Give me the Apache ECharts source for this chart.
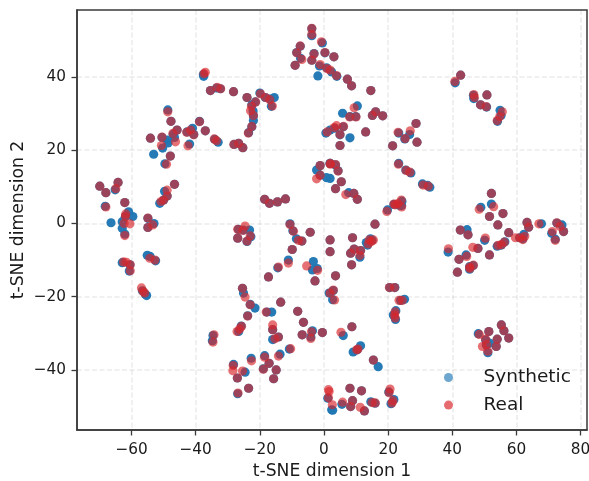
<!DOCTYPE html>
<html><head><meta charset="utf-8">
<style>html,body{margin:0;padding:0;background:#fff}#c{width:589px;height:481px}</style>
<script src="https://cdn.jsdelivr.net/npm/echarts@6/dist/echarts.min.js"></script></head>
<body><div id="c"></div>
<script>
const xTicks=[-60,-40,-20,0,20,40,60,80];
const yTicks=[-40,-20,0,20,40];
const seriesNames=['Synthetic','Real'];
const synthetic=[
[-3.8,53.2],[-3.8,51.3],[-7.4,48.4],[-8.5,46.7],[-7.3,45.1],[-9,43.2],[-3.8,44.6],[-3.1,46.4],[-0.5,49.3],[0.3,46.6],[-1.4,43],[0.8,42.5],[-1.9,40.3],[2.4,41.4],[3.1,45.5],[4,40.2],[7.3,39.4],[8.6,37.6],[14.6,36.3],
[10.4,32.1],[5.8,30.1],[8.1,29.2],[9.9,29.2],[15.1,29.5],[16.1,30.5],[18.3,29.4],[6,26.4],[3.4,26],[5,24.2],[8.1,23.4],[13,25],[5,21.3],[1.9,25.5],
[23.3,24.7],[26.7,24.3],[25.2,23.1],[28.7,27.3],[29,22.2],[21.4,21.2],[23.3,16.4],[25.5,14.6],[27.1,13.8],[30.7,10.8],[33,9.9],[32.3,10.4],
[3.6,16],[1.9,16.4],[4.4,14.4],[1.9,12.3],[5.4,11.4],[3.6,9.5],[7.7,8.4],[9.3,8.2],[10.4,6.6],
[52.2,8.2],[52.2,5.3],[48.9,4.4],[55.8,2.7],[51.6,1.9],[42.6,40.5],[40.9,38.4],[46.7,34.1],[46.6,35],[48.8,32.4],[50.7,31.8],[50.8,35.1],[54.9,30.9],[55.2,29.5],[54.1,27.9],
[19.8,3.7],[21.8,5.2],[24.3,6.1],[24.2,4.9],[23.4,5],
[-37.5,40.2],[-37.6,40.7],[-35.4,36.3],[-33.5,37],[-32.3,36.8],[-28.2,36],[-24,34.4],[-20,35.6],[-18.3,34.4],[-16.8,34],[-15.5,34.4],[-16.4,32],[-21.4,33.2],[-22.5,32.4],[-22.1,30.7],[-22,29.4],[-22,28.1],[-22.5,26.4],[-23.5,24.8],
[-48.7,31],[-47.7,27.9],[-45.8,25.5],[-47,24.4],[-46.6,23.5],[-48.9,22.8],[-48.6,22],[-50.5,23.5],[-54.1,23.3],[-50.3,20.6],[-53.1,18.9],[-47.9,18.4],[-49.6,16.3],
[-42.7,25],[-41,26],[-40.6,24.3],[-38.8,27.9],[-37,25.3],[-41.9,21.7],[-34.1,23],[-33,22.2],[-28,21.6],[-26.6,21.9],[-25.3,20.7],
[-69.9,10.2],[-68,8.4],[-65.1,9.2],[-64.2,11.2],[-68.2,4.7],[-62.1,5.7],[-61.9,2],[-60.9,3.2],[-59.6,1.9],[-66.4,0.2],[-62.9,0.5],[-62.9,-1.3],[-62.1,-2.9],[-54.9,1.4],[-53,0],[-54.9,-1.1],
[0.6,24.7],[-1.2,15.8],[-2.3,14.6],[1.9,16.4],[0.8,12.5],[-1.2,13.2],[-18.5,6.6],[-17,5.5],[-14.5,5.9],[-12,6.7],
[-49.7,8.8],[-46.6,10.7],[-48.9,7.5],[-50,6.4],[-51.2,5.5],[-62.9,-10.7],[-60.5,-11.3],[-60.7,-13],[-55.1,-8.7],[-54.2,-9],[-52.5,-10.2],
[-56.6,-18.4],[-55.7,-19.3],[-55.3,-19.7],[-34.6,-30.6],[-34.8,-32],[-26.6,-29.5],[-25.8,-28],
[-25.4,-17.7],[-25.1,-19],[-23,-22.1],[-21.5,-23.1],[-23.8,-25.2],[-17.8,-24.2],[-16.3,-24.2],[-13.5,-21.5],[-16,-29],[-16,-31.7],[-14.2,-31],
[-8.2,-24],[-6.4,-27],[-3.6,-29.3],[-6.8,-30.4],[-0.5,-29.8],[-4.1,-31],[-10.8,-34.3],[-13.7,-35.7],[-18.5,-36.1],[-17.1,-38.2],[-18.9,-39.7],[-14.9,-40],[-15.7,-42.4],[-22.7,-36.8],[-24.6,-40.6],[-28.2,-38.5],[-27,-42.2],[-23.5,-45],[-26.9,-46.5],
[-26.7,-1.6],[-25.1,-1.8],[-23.2,-1.8],[-22.8,-3.6],[-24,-4.9],[-26.9,-4],[-10.6,-0.1],[-9.7,-2],[-8.6,-4.2],[-6.9,-4.8],[-4.3,-2.4],[-9.9,-7.1],[-11.1,-10],[-14.4,-12.1],[-17.3,-14.6],[-3.3,-10.4],[-3.6,-12.7],[-2.1,-12.3],[-2.8,-15.7],
[1.6,-19],[2.7,-20.8],[1.2,-47.7],[2.4,-50.9],[1.9,-4.5],[1.9,-7.7],[15.9,-0.2],[8.9,-3.9],[14.5,-4.2],[15,-4.6],[13.6,-5.9],[13.2,-5.2],
[9.4,-7],[11.4,-7.4],[8.3,-8.1],[11.2,-9.2],[8.6,-11.3],[3.6,-14.3],[2.9,-18.3],[20.5,-17.5],[22.1,-17.5],[25.1,-20.7],[23.9,-21],[22.4,-23.8],[21.6,-25],[22.3,-26.2],
[6,-30.6],[8.7,-28.2],[11.4,-33.4],[9.1,-35.1],[10.4,-34.5],[15.4,-37.3],[16.9,-39.1],[8.1,-45],[11.7,-45.7],[20.2,-46],[21.8,-48.1],[20.9,-49.2],
[14.6,-48.7],[15.9,-49.1],[12.6,-51.2],[8.9,-48.4],[8.3,-50],[5.6,-49.4],[2.7,-51],
[42.5,-1.8],[44.6,-1.7],[44.9,-3.1],[38.7,-7.8],[50.1,-4.6],[48,-6.8],[44.3,-8.6],[42.1,-9.8],[51.6,-8.6],[45.4,-11.8],[46.5,-11.5],[45.4,-12.5],[41.6,-13.3],[54,-6.2],[55.3,-5.9],[56.4,-5],[57.6,-2.5],[54.2,-0.4],
[61,-3.9],[62.3,-3],[62,-4.2],[63.3,0.3],[63.8,-1],[67.8,-0.1],[71,-2.7],[72.1,-4.3],[72.6,0.1],[74.2,-0.4],[74.7,-2.2],
[55.3,-27.7],[56.1,-29.3],[57.6,-31.3],[51.4,-29.5],[48.1,-30.1],[54,-31.6],[50.4,-31.8],[51.6,-32.7],[50.6,-33.2],[53.7,-33.6],[51.1,-35.3]
];
const real=[
[-3.8,53.3],[-3.8,51.6],[-7.4,48.5],[-8.5,46.6],[-6.9,44.8],[-9,43.2],[-3.8,44.6],[-3.1,46.3],[-0.8,49.6],[0.3,46.7],[-1.2,43.4],[0.9,42.3],[1.9,41.9],[3.1,45.5],[3.9,40.4],[7.3,39.4],[8.6,37.6],[14.6,36.3],
[9.4,31.6],[8,29.1],[10,29.1],[15.1,29.5],[16.1,30.5],[18.3,29.4],[6.1,26.5],[3.2,26.2],[5,24.3],[13,25],[5,21.3],[3.9,26.7],
[23.1,24.9],[26.9,25.3],[25.3,23.2],[28.7,27.3],[29,22.2],[21.4,21.2],[23.2,16.2],[25.6,14.5],[26.8,14],[30.9,10.5],[32.5,10.2],
[3.6,16.1],[2,16.2],[4.4,14.3],[5.4,11.4],[3.6,9.5],[6.8,7.9],[9.3,8.2],[10.4,6.6],
[52.2,8.2],[52.9,4.6],[48.4,3.9],[55.8,2.7],[51.6,1.9],[42.6,40.5],[40.8,38.8],[46.7,35.2],[46.9,34.4],[48.8,32.4],[50.6,31.9],[50.8,35.1],[55.6,30.5],[54.8,29.2],[54,28.1],
[19.6,3.3],[21.8,5.3],[24.1,6.4],[24.2,4.5],[23,5.4],[22.2,5.1],
[-37,41.3],[-37.4,40.9],[-35.4,36.3],[-33.3,37.2],[-32.2,36.8],[-28.2,36],[-24,34.4],[-19.8,35.4],[-18.2,34.4],[-16.9,33.8],[-16.1,32.1],[-21.3,33.2],[-22.6,32],[-22.9,30.8],[-22,29.5],[-22.5,26.5],[-23.6,24.7],
[-48.7,30.5],[-47.7,27.9],[-45.8,25.5],[-47.1,24.6],[-46.3,22.3],[-50.5,23.6],[-54.1,23.3],[-50.7,21.3],[-47.9,18.4],[-49.1,16.2],
[-42.8,24.9],[-41.6,25.5],[-40.6,24.2],[-38.8,27.8],[-37,25.3],[-42.4,21.2],[-34.2,23.1],[-33.5,22.6],[-28.1,21.6],[-26.6,21.9],[-25.3,20.7],
[-69.9,10.2],[-68,8.4],[-64.9,9.5],[-64.2,11.2],[-68,4.5],[-62.1,5.7],[-61.8,2.6],[-61.9,1.9],[-60.5,-0.1],[-62.3,0],[-62.1,-3.3],[-54.9,1.5],[-53.4,-0.4],[-54.9,-1.1],
[1,25],[-1.2,15.8],[-2.3,12.2],[1.9,16.4],[-1.2,13.2],[-18.5,6.6],[-17,5.5],[-14.5,5.9],[-12,6.7],
[-48.9,9.1],[-46.6,10.7],[-48.9,7.5],[-50,6.4],[-50.8,6],[-62.5,-10.5],[-61.6,-10.6],[-60.4,-11.3],[-60.4,-12.9],[-54.3,-9.5],[-52.7,-10],
[-56.9,-17.6],[-56.4,-18.6],[-55.9,-19],[-34.3,-30.4],[-34.6,-32.4],[-27.1,-29.5],[-25.7,-28.1],[-26.3,-28.8],
[-25.4,-17.7],[-24.6,-20.1],[-23,-22.2],[-23.8,-25.3],[-18,-24.2],[-13.5,-21.5],[-16,-27.7],[-16,-29],[-15.3,-31.5],[-14.2,-31],
[-8.2,-24],[-6.4,-27],[-3.9,-29.6],[-6.8,-30.4],[-0.5,-29.8],[-4.1,-31.4],[-10.4,-34.2],[-14.2,-36.2],[-18.5,-36.5],[-17.1,-38.2],[-18.9,-39.8],[-14.9,-40],[-15.7,-42.4],[-22.6,-37.5],[-25.4,-40.3],[-28.3,-38.8],[-28.4,-40.2],[-27,-42.2],[-23.5,-45],[-26.8,-46.3],
[-26.9,-1.6],[-25.3,-1.9],[-24.6,-0.7],[-23,-3.4],[-24,-4.8],[-26.9,-4],[-10.6,-0.3],[-9.5,-2.1],[-8,-4.6],[-6.9,-4.8],[-4.3,-2.4],[-9.9,-7.1],[-11.1,-10.8],[-14.2,-11.9],[-17.3,-14.6],[-5.4,-11.6],[-2,-12.8],[-2.8,-15.7],
[1.9,-19],[3.3,-20.9],[1.4,-45.4],[1.6,-45.9],[1.4,-47.6],[1.9,-4.5],[1.9,-7.7],[15.9,-0.2],[8.9,-3.9],[14.1,-4.5],[15.4,-4.5],[13.8,-5.6],[14.8,-4.9],
[9.4,-7],[11.4,-7.4],[8.3,-8.1],[11.2,-8.7],[8.6,-11.3],[3.6,-14.3],[2.9,-18.2],[20.4,-17.5],[22,-17.5],[24.4,-21],[23.4,-21],[22.2,-24.1],[22,-25],[22.2,-25.8],
[5.3,-29.7],[8.7,-28.2],[10.6,-34.3],[10.2,-34.5],[15.4,-37.3],[8.1,-45],[11.7,-45.7],[20.6,-45.2],[20.3,-46.2],[21.5,-48.4],[21.2,-49],
[15,-48.9],[16,-49],[11.3,-50.2],[12.6,-51.2],[8.9,-48.4],[8.3,-50],[5.8,-48.8],[2.6,-49.5],
[42.5,-1.8],[44.9,-3.1],[38.8,-6.9],[50.3,-4],[46.4,-6.5],[48,-6.8],[44.5,-9],[42.1,-9.8],[51.6,-8.6],[45.4,-11.9],[46.6,-11.4],[45.5,-12.3],[41.6,-13.3],[54.2,-6],[55.3,-5.8],[56.2,-5.1],[57.6,-2.5],[54.2,-0.4],
[59.7,-3.9],[61.1,-3.9],[62,-4.4],[62.6,-3.5],[63.3,0.3],[63.8,-1],[67,-0.1],[71.2,-2.2],[72.1,-4.6],[72.6,0.2],[73.6,-0.8],[74.7,-2.2],
[55.3,-27.7],[56.1,-29.3],[57.6,-31.3],[51.4,-29.5],[48.4,-30.3],[54,-31.6],[50.4,-31.6],[49.4,-33.6],[50.7,-33.1],[53.7,-33.6],[51.1,-34.9]
];
const ink='#3a3a3a';
const gridLine={show:true,lineStyle:{color:'rgba(176,176,176,0.26)',width:1.5,type:[5,2.5]}};
const fmt=v=>String(v).replace('-','\u2212');
const chart=echarts.init(document.getElementById('c'),null,{renderer:'canvas'});
chart.setOption({
  animation:false,
  textStyle:{fontFamily:'DejaVu Sans'},
  grid:{left:77,width:510,top:10,height:420,show:true,borderColor:ink,borderWidth:1.5,z:5,outerBoundsMode:'none',containLabel:false},
  legend:{left:444,top:368,padding:0,orient:'vertical',itemWidth:60,itemHeight:9,itemGap:8.6,
    textStyle:{fontSize:18.5,color:'#1a1a1a',fontFamily:'DejaVu Sans'},
    data:[{name:seriesNames[0],icon:'circle',itemStyle:{color:'#1f77b4',opacity:0.65}},
          {name:seriesNames[1],icon:'circle',itemStyle:{color:'#d9252a',opacity:0.68}}]},
  xAxis:{type:'value',min:-77,max:82,scale:true,name:'t-SNE dimension 1',nameLocation:'middle',nameGap:33,
    nameTextStyle:{fontSize:17.2,color:'#1a1a1a'},
    axisLine:{show:true,onZero:false,lineStyle:{color:ink,width:1.5}},
    axisTick:{show:true,length:5.5,customValues:xTicks,lineStyle:{color:ink,width:1.3}},
    axisLabel:{customValues:xTicks,formatter:fmt,fontSize:15.3,color:'#1a1a1a',margin:13},
    splitLine:Object.assign({customValues:xTicks},gridLine)},
  yAxis:{type:'value',min:-56.4,max:58.3,name:'t-SNE dimension 2',nameLocation:'middle',nameGap:49.5,nameMoveOverlap:false,
    nameTextStyle:{fontSize:17.2,color:'#1a1a1a'},
    axisLine:{show:true,onZero:false,lineStyle:{color:ink,width:1.5}},
    axisTick:{show:true,length:5.5,customValues:yTicks,lineStyle:{color:ink,width:1.3}},
    axisLabel:{customValues:yTicks,formatter:fmt,fontSize:15.3,color:'#1a1a1a',margin:11},
    splitLine:Object.assign({customValues:yTicks},gridLine)},
  series:[
    {name:seriesNames[0],type:'scatter',data:synthetic,symbol:'circle',symbolSize:9.2,itemStyle:{color:'#1f77b4',opacity:0.97},z:2},
    {name:seriesNames[1],type:'scatter',data:real,symbol:'circle',symbolSize:9.2,itemStyle:{color:'#d9252a',opacity:0.65},z:3}
  ]
});
</script></body></html>
